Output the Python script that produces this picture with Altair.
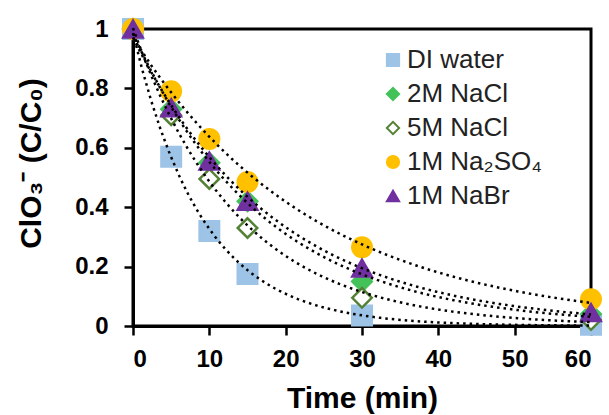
import altair as alt
import pandas as pd

series = ["DI water", "2M NaCl", "5M NaCl", "1M Na₂SO₄", "1M NaBr"]
time_min = [0, 5, 10, 15, 30, 60]
di_water = [1.0, 0.57, 0.32, 0.175, 0.035, 0.004]
nacl_2m = [1.0, 0.73, 0.55, 0.42, 0.15, 0.04]
nacl_5m = [1.0, 0.71, 0.495, 0.33, 0.095, 0.02]
na2so4_1m = [1.0, 0.79, 0.63, 0.485, 0.265, 0.09]
nabr_1m = [1.0, 0.735, 0.555, 0.42, 0.195, 0.045]

fill_colors = ["#9DC3E6", "#44C25A", "#FFFFFF", "#FFC000", "#7030A0"]
stroke_colors = ["#9DC3E6", "#44C25A", "#548235", "#FFC000", "#7030A0"]
shapes = ["square", "diamond", "diamond", "circle", "triangle-up"]

x_ticks = [0, 5, 10, 15, 20, 25, 30, 35, 40, 45, 50, 55, 60]
y_ticks = [0, 0.1, 0.2, 0.3, 0.4, 0.5, 0.6, 0.7, 0.8, 0.9, 1.0]

rows = []
for name, vals in zip(series, [di_water, nacl_2m, nacl_5m, na2so4_1m, nabr_1m]):
    for t, v in zip(time_min, vals):
        rows.append({"series": name, "t": t, "v": v})
df = pd.DataFrame(rows)

FONT = "Liberation Sans"

x_enc = alt.X(
    "t:Q",
    scale=alt.Scale(domain=[0, 60], nice=False),
    axis=alt.Axis(
        values=x_ticks,
        labelExpr="datum.value % 10 == 0 ? datum.label : ''",
        title="Time (min)",
        titleY=81,
        titleBaseline="alphabetic",
        labelPadding=12,
    ),
)
y_enc = alt.Y(
    "v:Q",
    scale=alt.Scale(domain=[0, 1], nice=False),
    axis=alt.Axis(
        values=y_ticks,
        labelExpr="round(datum.value * 10) % 2 == 0 ? format(datum.value, '~g') : ''",
        title="ClO₃⁻ (C/C₀)",
        titleX=-102,
        titleY=134,
        titleBaseline="middle",
        titleAlign="center",
        labelPadding=16,
    ),
)

legend = alt.Legend(
    title=None,
    orient="none",
    legendX=247,
    legendY=18,
)

points = alt.Chart(df).mark_point(size=380, strokeWidth=2.5, opacity=1).encode(
    x=x_enc,
    y=y_enc,
    fill=alt.Fill("series:N", scale=alt.Scale(domain=series, range=fill_colors), legend=legend),
    stroke=alt.Stroke("series:N", scale=alt.Scale(domain=series, range=stroke_colors), legend=legend),
    shape=alt.Shape("series:N", scale=alt.Scale(domain=series, range=shapes), legend=legend),
)

fits = alt.Chart(df).transform_regression(
    "t", "v", groupby=["series"], method="exp", extent=[0, 60]
).mark_line(color="black", strokeDash=[2.5, 4], strokeWidth=2.5).encode(
    x="t:Q", y="v:Q", detail="series:N"
)

chart = alt.layer(points, fits).properties(
    width=458,
    height=297,
    autosize=alt.AutoSizeParams(type="none"),
    padding={"left": 133, "top": 29, "right": 18, "bottom": 89},
).configure_view(
    stroke="black", strokeWidth=3
).configure_axis(
    grid=False,
    domainColor="black",
    domainWidth=3,
    tickColor="black",
    tickWidth=2.5,
    tickSize=9,
    labelFont=FONT,
    labelFontWeight="bold",
    labelFontSize=24,
    labelColor="black",
    titleFont=FONT,
    titleFontWeight="bold",
    titleFontSize=30,
    titleColor="black",
).configure_legend(
    labelFont=FONT,
    labelFontSize=26,
    labelColor="#222222",
    symbolSize=150,
    symbolStrokeWidth=2,
    rowPadding=8,
    labelOffset=1,
    padding=0,
)

chart.save("out.html", embed_options={"renderer": "svg", "actions": False})
